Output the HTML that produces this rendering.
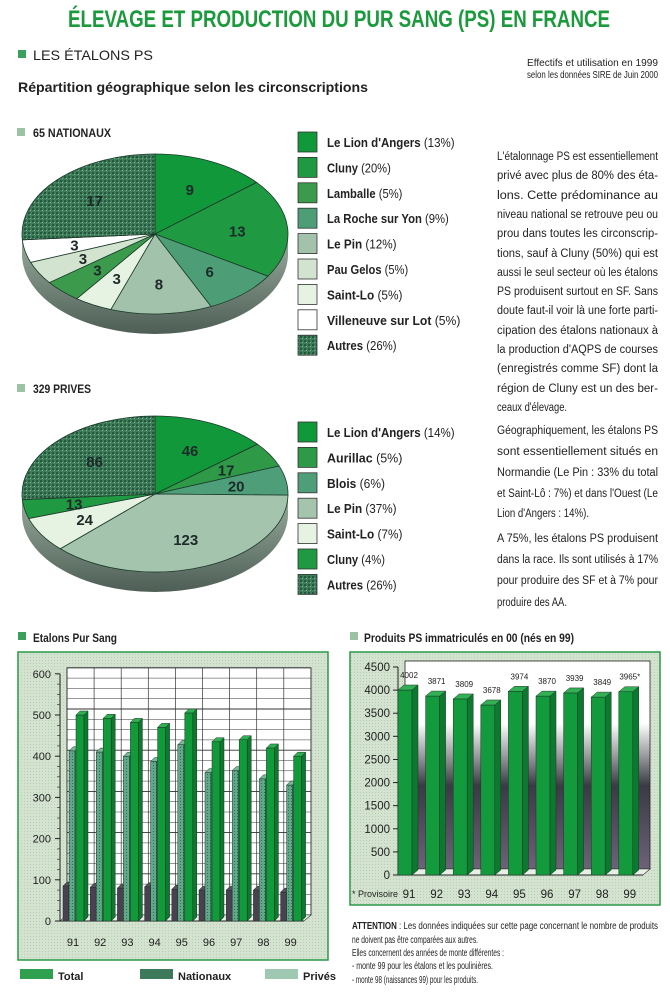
<!DOCTYPE html>
<html><head><meta charset="utf-8"><style>
html,body{margin:0;padding:0;background:#fff;}
svg{display:block;font-family:"Liberation Sans",sans-serif;}
</style></head><body>
<svg id="page" width="670" height="1002" viewBox="0 0 670 1002" xmlns="http://www.w3.org/2000/svg">
<defs>
<linearGradient id="side" x1="0" y1="0" x2="0" y2="1"><stop offset="0" stop-color="#9aae9e"/><stop offset="1" stop-color="#4e5e56"/></linearGradient>
<pattern id="autres" width="4" height="4" patternUnits="userSpaceOnUse"><rect width="4" height="4" fill="#3f7d5a"/><rect width="2" height="2" fill="#24573c"/><rect x="2" y="2" width="1" height="1" fill="#7fb08f"/></pattern>
<pattern id="dots" width="3" height="3" patternUnits="userSpaceOnUse"><rect width="3" height="3" fill="#d3e3cf"/><rect width="1" height="1" fill="#b9ceb6"/></pattern>
<pattern id="priv" width="3" height="3" patternUnits="userSpaceOnUse"><rect width="3" height="3" fill="#5fa888"/><rect width="1" height="1" fill="#2d7256"/></pattern>
<linearGradient id="wall2" x1="0" y1="0" x2="0" y2="1"><stop offset="0" stop-color="#ffffff"/><stop offset="0.3" stop-color="#ffffff"/><stop offset="0.6" stop-color="#3a3a44"/><stop offset="1" stop-color="#6e6278"/></linearGradient>
</defs>

<text x="339" y="27" text-anchor="middle" font-size="24" font-weight="bold" fill="#1b9a3c" textLength="542" lengthAdjust="spacingAndGlyphs">ÉLEVAGE ET PRODUCTION DU PUR SANG (PS) EN FRANCE</text>
<rect x="18" y="50" width="8" height="8" fill="#3aa05a"/>
<text x="33" y="60" font-size="14" fill="#222" textLength="120" lengthAdjust="spacingAndGlyphs">LES ÉTALONS PS</text>
<text x="18" y="92" font-size="14" font-weight="bold" fill="#222" textLength="350" lengthAdjust="spacingAndGlyphs">Répartition géographique selon les circonscriptions</text>
<text x="658" y="66" text-anchor="end" font-size="10" fill="#222" textLength="131" lengthAdjust="spacingAndGlyphs">Effectifs et utilisation en 1999</text>
<text x="658" y="78" text-anchor="end" font-size="10" fill="#222" textLength="131" lengthAdjust="spacingAndGlyphs">selon les données SIRE de Juin 2000</text>

<rect x="17" y="128" width="8" height="8" fill="#9cc2a4"/>
<text x="33" y="137" font-size="12" font-weight="bold" fill="#222" textLength="78" lengthAdjust="spacingAndGlyphs">65 NATIONAUX</text>
<rect x="17" y="384" width="8" height="8" fill="#9cc2a4"/>
<text x="33" y="393" font-size="12" font-weight="bold" fill="#222" textLength="58" lengthAdjust="spacingAndGlyphs">329 PRIVES</text>

<g id="pie1"></g>
<g id="pie2"></g>
<g id="leg1"></g>
<g id="leg2"></g>
<g id="para"></g>

<rect x="18" y="632" width="8" height="8" fill="#3aa05a"/>
<text x="33" y="642" font-size="12" font-weight="bold" fill="#222" textLength="84" lengthAdjust="spacingAndGlyphs">Etalons Pur Sang</text>
<rect x="350" y="632" width="8" height="8" fill="#9cc2a4"/>
<text x="364" y="642" font-size="12" font-weight="bold" fill="#222" textLength="210" lengthAdjust="spacingAndGlyphs">Produits PS immatriculés en 00 (nés en 99)</text>

<g id="chart1"></g>
<g id="chart2"></g>

<g font-size="10" fill="#222">
<text x="352" y="929" textLength="306" lengthAdjust="spacingAndGlyphs"><tspan font-weight="bold">ATTENTION</tspan> : Les données indiquées sur cette page concernant le nombre de produits</text>
<text x="352" y="943" textLength="126" lengthAdjust="spacingAndGlyphs">ne doivent pas être comparées aux autres.</text>
<text x="352" y="956" textLength="152" lengthAdjust="spacingAndGlyphs">Elles concernent des années de monte différentes :</text>
<text x="352" y="969" textLength="141" lengthAdjust="spacingAndGlyphs">- monte 99 pour les étalons et les poulinières.</text>
<text x="352" y="983" textLength="126" lengthAdjust="spacingAndGlyphs">- monte 98 (naissances 99) pour les produits.</text>
</g>
</svg>
<script>
const NS="http://www.w3.org/2000/svg";
// ---- data ----
const natLabels=["Le Lion d'Angers (13%)","Cluny (20%)","Lamballe (5%)","La Roche sur Yon (9%)","Le Pin (12%)","Pau Gelos (5%)","Saint-Lo (5%)","Villeneuve sur Lot (5%)","Autres (26%)"];
const natSliceLabels=["Le Lion d'Angers","Cluny","La Roche sur Yon","Le Pin","Saint-Lo","Lamballe","Pau Gelos","Villeneuve sur Lot","Autres"];
const natValues=[9,13,6,8,3,3,3,3,17];
const priLabels=["Le Lion d'Angers (14%)","Aurillac (5%)","Blois (6%)","Le Pin (37%)","Saint-Lo (7%)","Cluny (4%)","Autres (26%)"];
const priSliceLabels=["Le Lion d'Angers","Aurillac","Blois","Le Pin","Saint-Lo","Cluny","Autres"];
const priValues=[46,17,20,123,24,13,86];
const years=["91","92","93","94","95","96","97","98","99"];
const totalValues=[500,492,482,470,505,435,440,420,400];
const privesValues=[413,410,400,387,428,360,365,345,330];
const nationauxValues=[85,82,80,83,77,75,75,75,70];
const ticks1=[0,100,200,300,400,500,600];
const produitsValues=[4002,3871,3809,3678,3974,3870,3939,3849,3965];
const produitsText=["4002","3871","3809","3678","3974","3870","3939","3849","3965*"];
const ticks2=[0,500,1000,1500,2000,2500,3000,3500,4000,4500];

function el(tag,attrs,parent){const e=document.createElementNS(NS,tag);for(const k in attrs)e.setAttribute(k,attrs[k]);parent.appendChild(e);return e;}

const natColors=["#11983a","#1f9a42","#4d9e76","#a3c2ab","#e6f2e2","#3b9a4c","#d2e4cf","#ffffff","url(#autres)"];
const priColors=["#11983a","#2e9a48","#4f9e7a","#a5c4ad","#e6f2e2","#1f9a42","url(#autres)"];
const legColors1=["#11983a","#1f9a42","#3b9a4c","#4d9e76","#a3c2ab","#d2e4cf","#e6f2e2","#ffffff","url(#autres)"];
const legColors2=["#11983a","#2e9a48","#4f9e7a","#a5c4ad","#e6f2e2","#1f9a42","url(#autres)"];

function drawPie(g,cx,cy,rx,ry,d,vals,cols,names){
  el('path',{d:`M${cx+rx},${cy} L${cx+rx},${cy+d} A${rx},${ry} 0 0 1 ${cx-rx},${cy+d} L${cx-rx},${cy} A${rx},${ry} 0 0 0 ${cx+rx},${cy}Z`,fill:'url(#side)'},g);
  const sum=vals.reduce((a,b)=>a+b,0);let acc=0;
  vals.forEach((v,i)=>{
    const t0=acc/sum*2*Math.PI;acc+=v;const t1=acc/sum*2*Math.PI;
    const x0=cx+rx*Math.sin(t0),y0=cy-ry*Math.cos(t0),x1=cx+rx*Math.sin(t1),y1=cy-ry*Math.cos(t1);
    const large=(t1-t0)>Math.PI?1:0;
    const p=el('path',{d:`M${cx},${cy} L${x0},${y0} A${rx},${ry} 0 ${large} 1 ${x1},${y1}Z`,fill:cols[i],stroke:'#1b3a2a','stroke-width':'0.8'},g);
    
    
    const tm=(t0+t1)/2,f=0.62;
    const t=el('text',{x:cx+rx*f*Math.sin(tm),y:cy-ry*f*Math.cos(tm)+6,'text-anchor':'middle','font-size':'15','font-weight':'bold',fill:'#1d2a2a'},g);
    t.textContent=v;
    
    
  });
}
drawPie(document.getElementById('pie1'),155,234,133,80,20,natValues,natColors,natSliceLabels);
drawPie(document.getElementById('pie2'),155,494,133,78,20,priValues,priColors,priSliceLabels);

function drawLegend(g,y0,labels,cols){
  labels.forEach((l,i)=>{
    const y=y0+i*25.4;
    const r=el('rect',{x:298,y:y-10,width:19,height:20,fill:cols[i],stroke:'#333','stroke-width':'0.8'},g);
    
    
    const m=l.match(/^(.*?) (\(.*\))$/);
    const t=el('text',{x:327,y:y+5,'font-size':'13',fill:'#222',textLength:l.length*5.8,lengthAdjust:'spacingAndGlyphs'},g);
    const a=el('tspan',{'font-weight':'bold'},t);a.textContent=m[1]+' ';
    const b=el('tspan',{},t);b.textContent=m[2];
    
    
  });
}
drawLegend(document.getElementById('leg1'),142,natLabels,legColors1);
drawLegend(document.getElementById('leg2'),432,priLabels,legColors2);

const paraLines=[["L'étalonnage PS est essentiellement",160,1],["privé avec plus de 80% des éta-",179,1],["lons. Cette prédominance au",199,1],["niveau national se retrouve peu ou",218,1],["prou dans toutes les circonscrip-",237,1],["tions, sauf à Cluny (50%) qui est",257,1],["aussi le seul secteur où les étalons",276,1],["PS produisent surtout en SF. Sans",295,1],["doute faut-il voir là une forte parti-",314,1],["cipation des étalons nationaux à",334,1],["la production d'AQPS de courses",353,1],["(enregistrés comme SF) dont la",372,1],["région de Cluny est un des ber-",392,1],["ceaux d'élevage.",411,0],
["Géographiquement, les étalons PS",434,1],["sont essentiellement situés en",455,1],["Normandie (Le Pin : 33% du total",476,1],["et Saint-Lô : 7%) et dans l'Ouest (Le",497,1],["Lion d'Angers : 14%).",517,0],
["A 75%, les étalons PS produisent",542,1],["dans la race. Ils sont utilisés à 17%",563,1],["pour produire des SF et à 7% pour",584,1],["produire des AA.",606,0]];
(function(){const g=document.getElementById('para');
paraLines.forEach(([s,y,full])=>{
  const a={x:497,y:y,'font-size':'11.5',fill:'#222',lengthAdjust:'spacingAndGlyphs'};
  a.textLength=full?161:Math.round(s.length*4.4);
  const t=el('text',a,g);t.textContent=s;
  
  
});})();

// ---- chart 1 ----
(function(){
  const g=document.getElementById('chart1');
  const bg=el('rect',{x:18,y:652,width:310,height:308,fill:'url(#dots)',stroke:'#2a9a48','stroke-width':'1.5'},g);
  
  const y0=921,k=0.412,ys=v=>y0-v*k;const ox=7,oy=-6;
  const xc=i=>72+i*27.2;
  el('rect',{x:60+ox,y:ys(600)+oy,width:244,height:600*k,fill:'#fff',stroke:'#222','stroke-width':'0.8'},g);
  for(let v=0;v<=600;v+=25){el('line',{x1:60+ox,x2:304+ox,y1:ys(v)+oy,y2:ys(v)+oy,stroke:'#333','stroke-width':v%100===0?'0.9':'0.5'},g);}
  for(let i=0;i<=years.length;i++){const x=60+ox+i*27.1;el('line',{x1:x,x2:x,y1:ys(600)+oy,y2:y0+oy,stroke:'#333','stroke-width':'0.7'},g);}
  el('path',{d:`M60,${y0} L${60+ox},${y0+oy} L${304+ox},${y0+oy} L304,${y0}Z`,fill:'#e8efe6',stroke:'#333','stroke-width':'0.6'},g);
  el('line',{x1:60,x2:60,y1:ys(600),y2:y0,stroke:'#222','stroke-width':'1'},g);
  el('line',{x1:60,x2:304,y1:y0,y2:y0,stroke:'#222','stroke-width':'1'},g);
  ticks1.forEach(v=>{el('line',{x1:55,x2:60,y1:ys(v),y2:ys(v),stroke:'#222'},g);
    const t=el('text',{x:51,y:ys(v)+4,'text-anchor':'end','font-size':'11',fill:'#222'},g);t.textContent=v;
    });
  for(let v=0;v<=600;v+=25)el('line',{x1:57,x2:60,y1:ys(v),y2:ys(v),stroke:'#222','stroke-width':'0.6'},g);
  function bar(x,w,v,front,side,top,name){
    const bx=el('g',{},g);
    const d=4;
    el('rect',{x:x,y:ys(v),width:w,height:v*k,fill:front,stroke:'#1d3328','stroke-width':'0.5'},bx);
    el('path',{d:`M${x+w},${ys(v)} l${d},${-d} L${x+w+d},${y0-d} L${x+w},${y0}Z`,fill:side,stroke:'#1d3328','stroke-width':'0.5'},bx);
    el('path',{d:`M${x},${ys(v)} l${d},${-d} l${w},0 l${-d},${d}Z`,fill:top,stroke:'#1d3328','stroke-width':'0.5'},bx);
  }
  years.forEach((yr,i)=>{const c=xc(i);
    bar(c-9,6,nationauxValues[i],'#4a4050','#3a3040','#5a5060','bar-nationaux-'+yr);
    bar(c-3,6,privesValues[i],'url(#priv)','#3d8a68','#7ab89a','bar-prives-'+yr);
    bar(c+4,8,totalValues[i],'#119a3a','#0b7a2c','#2fb050','bar-total-'+yr);
    const t=el('text',{x:c+1,y:946,'text-anchor':'middle','font-size':'11',fill:'#222'},g);t.textContent=yr;
    
  });
  const leg=[["Total","#2fa050",20,58],["Nationaux","#3d7a5c",140,178],["Privés","#9ec8b2",265,303]];
  leg.forEach(([n,c,x,tx])=>{const r=el('rect',{x:x,y:969,width:33,height:10,fill:c},g);
    
    const t=el('text',{x:tx,y:980,'font-size':'11',fill:'#222','font-weight':'bold'},g);t.textContent=n;
    });
})();

// ---- chart 2 ----
(function(){
  const g=document.getElementById('chart2');
  const bg=el('rect',{x:350,y:652,width:310,height:253,fill:'url(#dots)',stroke:'#2a9a48','stroke-width':'1.5'},g);
  
  const y0=875,k=208/4500,ys=v=>y0-v*k;const ox=7,oy=-6;
  const xc=i=>409+i*27.6;
  el('rect',{x:398+ox,y:ys(4500)+oy,width:245,height:4500*k,fill:'url(#wall2)',stroke:'#222','stroke-width':'0.8'},g);
  el('path',{d:`M398,${y0} L${398+ox},${y0+oy} L${643+ox},${y0+oy} L643,${y0}Z`,fill:'#e8efe6',stroke:'#333','stroke-width':'0.6'},g);
  el('line',{x1:398,x2:398,y1:ys(4500),y2:y0,stroke:'#222'},g);
  el('line',{x1:398,x2:643,y1:y0,y2:y0,stroke:'#222'},g);
  ticks2.forEach(v=>{el('line',{x1:393,x2:398,y1:ys(v),y2:ys(v),stroke:'#222'},g);
    const t=el('text',{x:390,y:ys(v)+4,'text-anchor':'end','font-size':'11.5',fill:'#222'},g);t.textContent=v;
    });
  produitsValues.forEach((v,i)=>{const c=xc(i),x=c-11,w=14,d=6;
    const bx=el('g',{},g);
    el('rect',{x:x,y:ys(v),width:w,height:v*k,fill:'#129a3c',stroke:'#1d3328','stroke-width':'0.5'},bx);
    el('path',{d:`M${x+w},${ys(v)} l${d},${-5} L${x+w+d},${y0-5} L${x+w},${y0}Z`,fill:'#0c7a2e',stroke:'#1d3328','stroke-width':'0.5'},bx);
    el('path',{d:`M${x},${ys(v)} l${d},-5 l${w},0 l${-d},5Z`,fill:'#33b055',stroke:'#1d3328','stroke-width':'0.5'},bx);
    const t=el('text',{x:c,y:ys(v)-12,'text-anchor':'middle','font-size':'8',fill:'#222'},g);t.textContent=produitsText[i];
    
    const l=el('text',{x:c,y:898,'text-anchor':'middle','font-size':'11.5',fill:'#222'},g);l.textContent=years[i];
    
  });
  const p=el('text',{x:352,y:897,'font-size':'9',fill:'#222'},g);p.textContent='* Provisoire';
  
})();
</script>
</body></html>
